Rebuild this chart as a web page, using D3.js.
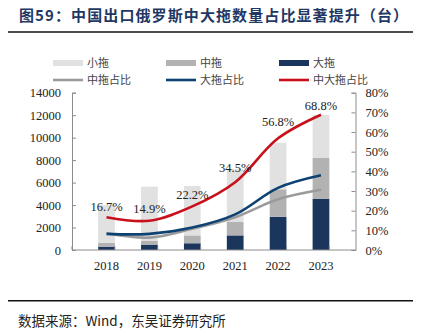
<!DOCTYPE html>
<html lang="zh">
<head>
<meta charset="UTF-8">
<title>中国出口俄罗斯拖拉机</title>
<script src="https://d3js.org/d3.v7.min.js"></script>
<style>
  body { margin: 0; background: #fff; }
  svg { display: block; }
  .num { font-family: "Liberation Serif", "Times New Roman", serif; font-size: 12.5px; fill: #222; }
  .cjk { font-family: "Noto Sans CJK SC", sans-serif; }
</style>
</head>
<body>
<svg width="422" height="331"></svg>
<script>
// 出口台数（台）
const years = ["2018", "2019", "2020", "2021", "2022", "2023"];
const bigUnits   = [300, 480, 600, 1300, 2960, 4570];
const midUnits   = [350, 320, 700, 1190, 2440, 3650];
const smallUnits = [3350, 4840, 4400, 4710, 4150, 3800];

// 占比（%）
const midShare    = [8.5, 6.3, 10.8, 16.7, 25.8, 30.6];
const bigShare    = [8.2, 8.2, 11.4, 18.1, 31.6, 38.0];
const midBigShare = [16.7, 14.9, 22.2, 34.5, 56.8, 68.8];

const leftTicks  = [0, 2000, 4000, 6000, 8000, 10000, 12000, 14000];
const rightTicks = [0, 10, 20, 30, 40, 50, 60, 70, 80];

const svg = d3.select("svg");

const x = d3.scaleBand().domain(years).range([72, 355.5]).padding(0.61);
const yL = d3.scaleLinear().domain([0, 14000]).range([250, 92.7]);
const yR = d3.scaleLinear().domain([0, 80]).range([250, 92.7]);

const axisColor = "#8c8c8c";

// 标题
svg.append("text")
  .attr("x", 19).attr("y", 21)
  .attr("class", "cjk")
  .attr("font-size", 15).attr("font-weight", 700)
  .attr("letter-spacing", 1.1)
  .attr("fill", "#1f3864")
  .text("图59：中国出口俄罗斯中大拖数量占比显著提升（台）");
svg.append("line").attr("x1", 8).attr("x2", 413).attr("y1", 32).attr("y2", 32)
  .attr("stroke", "#111").attr("stroke-width", 1.6);

// 堆叠柱
const rows = years.map((yr, i) => ({ year: yr, big: bigUnits[i], mid: midUnits[i], small: smallUnits[i] }));
const stack = d3.stack().keys(["big", "mid", "small"])(rows);
const barColor = { big: "#1b365d", mid: "#b2b2b2", small: "#e1e1e1" };

svg.append("g").selectAll("g")
  .data(stack).join("g")
  .attr("fill", d => barColor[d.key])
  .selectAll("rect")
  .data(d => d).join("rect")
  .attr("x", d => x(d.data.year))
  .attr("width", x.bandwidth())
  .attr("y", d => yL(d[1]))
  .attr("height", d => yL(d[0]) - yL(d[1]));

// 坐标轴
const axL = d3.axisLeft(yL).tickValues(leftTicks).tickSize(-4).tickPadding(11).tickFormat(d3.format("d"));
const axR = d3.axisRight(yR).tickValues(rightTicks).tickSize(-4).tickPadding(10).tickFormat(d => d + "%");

const gL = svg.append("g").attr("transform", "translate(72,0)").call(axL);
const gR = svg.append("g").attr("transform", "translate(355.5,0)").call(axR);
[gL, gR].forEach(g => {
  g.select(".domain").attr("stroke", axisColor);
  g.selectAll(".tick line").attr("stroke", axisColor);
  g.selectAll("text").attr("class", "num").attr("fill", "#222");
});

svg.append("line").attr("x1", 72).attr("x2", 355.5).attr("y1", 250).attr("y2", 250)
  .attr("stroke", axisColor);
// 类别分隔刻度
const step = x.step();
svg.append("g").selectAll("line")
  .data(d3.range(years.length + 1)).join("line")
  .attr("x1", i => 72 + i * step).attr("x2", i => 72 + i * step)
  .attr("y1", 250).attr("y2", 246)
  .attr("stroke", axisColor);

svg.append("g").selectAll("text")
  .data(years).join("text")
  .attr("class", "num")
  .attr("x", d => x(d) + x.bandwidth() / 2)
  .attr("y", 269.5)
  .attr("text-anchor", "middle")
  .text(d => d);

// 占比折线
const cx = i => x(years[i]) + x.bandwidth() / 2;
const line = d3.line().x((d, i) => cx(i)).y(d => yR(d)).curve(d3.curveCatmullRom.alpha(0.5));

const series = [
  { values: midShare, color: "#9b9b9b" },
  { values: bigShare, color: "#0e4272" },
  { values: midBigShare, color: "#c8101b" }
];
svg.append("g").selectAll("path")
  .data(series).join("path")
  .attr("d", d => line(d.values))
  .attr("fill", "none")
  .attr("stroke", d => d.color)
  .attr("stroke-width", 2.6)
  .attr("stroke-linecap", "butt");

// 数据标签
const labelLift = [11, 12, 12, 15, 17, 9];
svg.append("g").selectAll("text")
  .data(midBigShare).join("text")
  .attr("class", "num")
  .attr("x", (d, i) => cx(i))
  .attr("y", (d, i) => yR(d) - labelLift[i] + 4.5)
  .attr("text-anchor", "middle")
  .text(d => d.toFixed(1) + "%");

// 图例
const legendItems = [
  { name: "小拖", type: "rect", color: barColor.small },
  { name: "中拖", type: "rect", color: barColor.mid },
  { name: "大拖", type: "rect", color: barColor.big },
  { name: "中拖占比", type: "line", color: "#9b9b9b" },
  { name: "大拖占比", type: "line", color: "#0e4272" },
  { name: "中大拖占比", type: "line", color: "#c8101b" }
];
const lg = svg.append("g").selectAll("g")
  .data(legendItems).join("g")
  .attr("transform", (d, i) => `translate(${53 + (i % 3) * 113},${i < 3 ? 63 : 80})`);
lg.filter(d => d.type === "rect").append("rect")
  .attr("x", 0).attr("y", -3).attr("width", 30).attr("height", 6)
  .attr("fill", d => d.color);
lg.filter(d => d.type === "line").append("line")
  .attr("x1", 0).attr("x2", 30).attr("y1", 0).attr("y2", 0)
  .attr("stroke", d => d.color).attr("stroke-width", 2.6);
lg.append("text")
  .attr("class", "cjk")
  .attr("x", 34).attr("y", 4)
  .attr("font-size", 11).attr("fill", "#444")
  .text(d => d.name);

// 来源
svg.append("line").attr("x1", 8).attr("x2", 413).attr("y1", 300.7).attr("y2", 300.7)
  .attr("stroke", "#111").attr("stroke-width", 1.4);
svg.append("text")
  .attr("x", 18).attr("y", 326)
  .attr("class", "cjk")
  .attr("font-size", 13.5).attr("fill", "#222")
  .text("数据来源：Wind，东吴证券研究所");
</script>
</body>
</html>
